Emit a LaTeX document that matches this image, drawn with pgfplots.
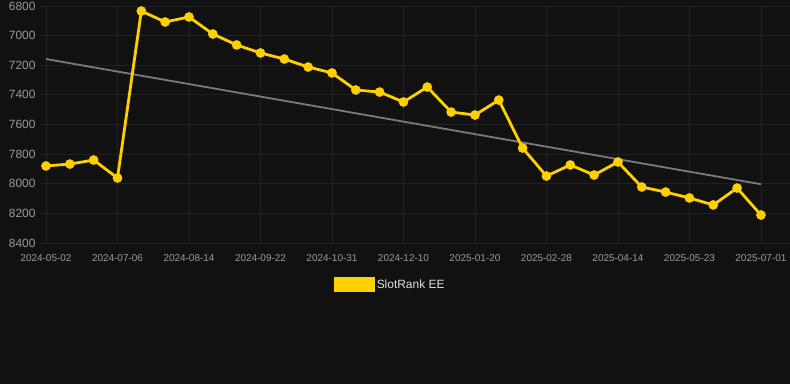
\documentclass[border=0pt]{standalone}
\usepackage{pgfplots}
\pgfplotsset{compat=1.18}
\usepackage{fontspec}
\setmainfont{Liberation Sans}
\definecolor{bg}{HTML}{111111}
\definecolor{gridc}{HTML}{212121}
\definecolor{gold}{HTML}{FFD000}
\definecolor{trend}{HTML}{7A7A7A}
\definecolor{ticklab}{HTML}{9A9A9A}
\definecolor{legtext}{HTML}{E0E0E0}
\begin{document}
\begin{tikzpicture}
\fill[bg] (0,0) rectangle (790bp,384bp);
\useasboundingbox (0,0) rectangle (790bp,384bp);
\begin{axis}[
  at={(40bp,141bp)}, anchor=south west,
  scale only axis, width=750bp, height=237bp,
  xmin=-0.252, xmax=31.22,
  ymin=6800, ymax=8400, y dir=reverse,
  axis line style={draw=none},
  tick style={draw=none},
  grid=major,
  major grid style={draw=gridc, line width=0.8bp},
  xtick={0,3,...,30},
  xticklabels={2024-05-02,2024-07-06,2024-08-14,2024-09-22,2024-10-31,2024-12-10,2025-01-20,2025-02-28,2025-04-14,2025-05-23,2025-07-01},
  ytick={6800,7000,...,8400},
  /pgf/number format/assume math mode=true,
  /pgf/number format/1000 sep={},
  yticklabel style={font=\fontsize{12}{14}\selectfont, text=ticklab, xshift=-1bp},
  xticklabel style={font=\fontsize{10}{12}\selectfont, text=ticklab, yshift=-8bp},
  legend style={at={(0.467,-0.175)}, anchor=center, draw=none, fill=none,
    text=legtext, font=\fontsize{12}{14}\selectfont, legend columns=-1},
  legend image code/.code={\fill[gold] (0bp,-6bp) rectangle (38bp,6bp);},
  clip=false,
]
\addplot[trend, line width=1.8bp, forget plot] coordinates {(0,7158) (30,8003)};
\addplot[gold, line width=2.8bp, mark=*, mark size=4.6bp, mark options={solid, fill=gold, draw=gold, line width=0.4bp}] coordinates {
(0,7880) (1,7867) (2,7840) (3,7961) (4,6834) (5,6908) (6,6874) (7,6989)
(8,7063) (9,7117) (10,7158) (11,7212) (12,7252) (13,7367) (14,7381)
(15,7448) (16,7347) (17,7516) (18,7536) (19,7435) (20,7759) (21,7948)
(22,7873) (23,7941) (24,7853) (25,8022) (26,8056) (27,8096) (28,8143)
(29,8029) (30,8211)};
\addlegendentry{SlotRank EE}
\end{axis}
\end{tikzpicture}
\end{document}
